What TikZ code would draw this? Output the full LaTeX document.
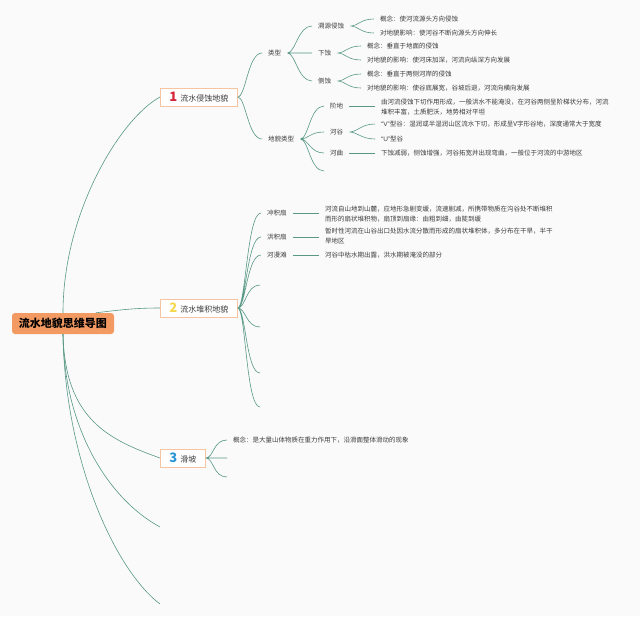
\documentclass[tikz,border=0pt]{standalone}
\usepackage{fontspec}
\setmainfont{Noto Sans CJK SC}
\newfontfamily\lat{Liberation Sans}
\usepackage{tikz}
\definecolor{bg}{RGB}{250,250,251}
\definecolor{lnc}{RGB}{88,152,132}
\definecolor{txt}{RGB}{60,60,60}
\definecolor{rootc}{RGB}{242,154,98}
\definecolor{brd}{RGB}{246,196,160}
\definecolor{n1}{RGB}{214,38,60}
\definecolor{n2}{RGB}{245,215,80}
\definecolor{n3}{RGB}{40,150,215}
\newcommand{\bnum}[2]{{\color{#1}\fontsize{13}{13}\selectfont\bfseries #2}\hspace{3pt}}
\tikzset{every node/.style={inner sep=0pt,text=txt,font=\fontsize{6.5}{10}\selectfont}}
\tikzset{t/.style={anchor=west,inner xsep=6pt,inner ysep=1pt,align=left}}
\tikzset{br/.style={anchor=west,draw=brd,fill=white,line width=0.8pt,minimum height=18pt,inner xsep=9pt,font=\fontsize{8}{8}\selectfont}}
\tikzset{root/.style={fill=rootc,rounded corners=3pt,minimum width=102pt,minimum height=21pt,text=black,font=\fontsize{11}{11}\selectfont\bfseries}}
\tikzset{ln/.style={draw=lnc,line width=0.6pt}}
\tikzset{fk/.style={to path={.. controls +(8,0) and +(-14,0) .. (\tikztotarget)}}}

\begin{document}
\begin{tikzpicture}[x=1pt,y=-1pt]
      \useasboundingbox (0,0) rectangle (640,616);
      \fill[bg] (0,0) rectangle (640,616);
      \node[root] (R) at (63,323.5) {流水地貌思维导图};
      % 1
      \node[br] (B1) at (160,97) {\bnum{n1}{1}流水侵蚀地貌};
      \node[t] (lx) at (262,53) {类型};
      \node[t] (sy) at (312,26) {溯源侵蚀};
      \node[t] (xs) at (312,53) {下蚀};
      \node[t] (cs) at (312,81) {侧蚀};
      \node[t] (sy1) at (374,19) {概念：使河流源头方向侵蚀};
      \node[t] (sy2) at (374,33) {对地貌影响：使河谷不断向源头方向伸长};
      \node[t] (xs1) at (361,46) {概念：垂直于地面的侵蚀};
      \node[t] (xs2) at (361,60) {对地貌的影响：使河床加深，河流向纵深方向发展};
      \node[t] (cs1) at (361,74) {概念：垂直于两侧河岸的侵蚀};
      \node[t] (cs2) at (361,88) {对地貌的影响：使谷底展宽，谷坡后退，河流向横向发展};
      \node[t] (ldm) at (262,139) {地貌类型};
      \node[t] (jd) at (324,106) {阶地};
      \node[t] (hg) at (324,132) {河谷};
      \node[t] (hq) at (324,153) {河曲};
      \coordinate (e1) at (324,171);
      \node[t] (jd1) at (375,107) {由河流侵蚀下切作用形成，一般洪水不能淹没，在河谷两侧呈阶梯状分布，河流\\堆积丰富，土质肥沃，地势相对平坦};
      \node[t] (hg1) at (375,124) {{\lat “V”}型谷：湿润或半湿润山区流水下切，形成呈V字形谷地，深度通常大于宽度};
      \node[t] (hg2) at (375,139) {{\lat “U”}型谷};
      \node[t] (hq1) at (375,153) {下蚀减弱，侧蚀增强，河谷拓宽并出现弯曲，一般位于河流的中游地区};
      % 2
      \node[br] (B2) at (160,308) {\bnum{n2}{2}流水堆积地貌};
      \node[t] (cj) at (261,213) {冲积扇};
      \node[t] (hj) at (261,237) {洪积扇};
      \node[t] (hm) at (261,255) {河漫滩};
      \coordinate (e2) at (260,285);
      \coordinate (e3) at (260,327);
      \coordinate (e4) at (260,373);
      \coordinate (e5) at (260,407);
      \node[t] (cj1) at (319,214) {河流自山地到山麓，应地形急剧变缓，流速剧减，所携带物质在沟谷处不断堆积\\而形的扇状堆积物，扇顶到扇缘：由粗到细，由陡到缓};
      \node[t] (hj1) at (319,236) {暂时性河流在山谷出口处因水流分散而形成的扇状堆积体，多分布在干旱，半干\\旱地区};
      \node[t] (hm1) at (319,255) {河谷中枯水期出露，洪水期被淹没的部分};
      % 3
      \node[br] (B3) at (160,458) {\bnum{n3}{3}滑坡};
      \node[t] (hp1) at (227,440) {概念：是大量山体物质在重力作用下，沿滑面整体滑动的现象};
      \coordinate (e6) at (227,458);
      \coordinate (e7) at (227,477);
      \coordinate (e8) at (160,527);
      \coordinate (e9) at (160,604);
      % root links
      \draw[ln] (R.north) .. controls +(0,-100) and +(-40,22) .. (B1.west);
      \draw[ln] (R.18) .. controls +(25,-3) and +(-25,0) .. (B2.west);
      \draw[ln] (R.south) .. controls +(2,86) and +(-50,-18) .. (B3.west);
      \draw[ln] (R.south) .. controls +(1,96) and +(-50,-27) .. (e8);
      \draw[ln] (R.south) .. controls +(2,126) and +(-45,-34) .. (e9);
      % branch links
      \draw[ln] (B1.east) to[fk] (lx.west) (B1.east) to[fk] (ldm.west);
      \draw[ln] (lx.east) to[fk] (sy.west) (lx.east) to[fk] (xs.west) (lx.east) to[fk] (cs.west);
      \draw[ln] (sy.east) to[fk] (sy1.west) (sy.east) to[fk] (sy2.west);
      \draw[ln] (xs.east) to[fk] (xs1.west) (xs.east) to[fk] (xs2.west);
      \draw[ln] (cs.east) to[fk] (cs1.west) (cs.east) to[fk] (cs2.west);
      \draw[ln] (ldm.east) to[fk] (jd.west) (ldm.east) to[fk] (hg.west) (ldm.east) to[fk] (hq.west) (ldm.east) to[fk] (e1);
      \draw[ln] (jd.east) -- (jd.east -| jd1.west);
      \draw[ln] (hg.east) to[fk] (hg1.west) (hg.east) to[fk] (hg2.west);
      \draw[ln] (hq.east) -- (hq1.west);
      \draw[ln] (B2.east) to[fk] (cj.west) (B2.east) to[fk] (hj.west) (B2.east) to[fk] (hm.west) (B2.east) to[fk] (e2);
      \draw[ln] (B2.east) to[fk] (e3) (B2.east) to[fk] (e4) (B2.east) to[fk] (e5);
      \draw[ln] (cj.east) -- (cj.east -| cj1.west);
      \draw[ln] (hj.east) -- (hj.east -| hj1.west);
      \draw[ln] (hm.east) -- (hm1.west);
      \draw[ln] (B3.east) to[fk] (hp1.west) (B3.east) to[fk] (e6) (B3.east) to[fk] (e7);
    \end{tikzpicture}
\end{document}
